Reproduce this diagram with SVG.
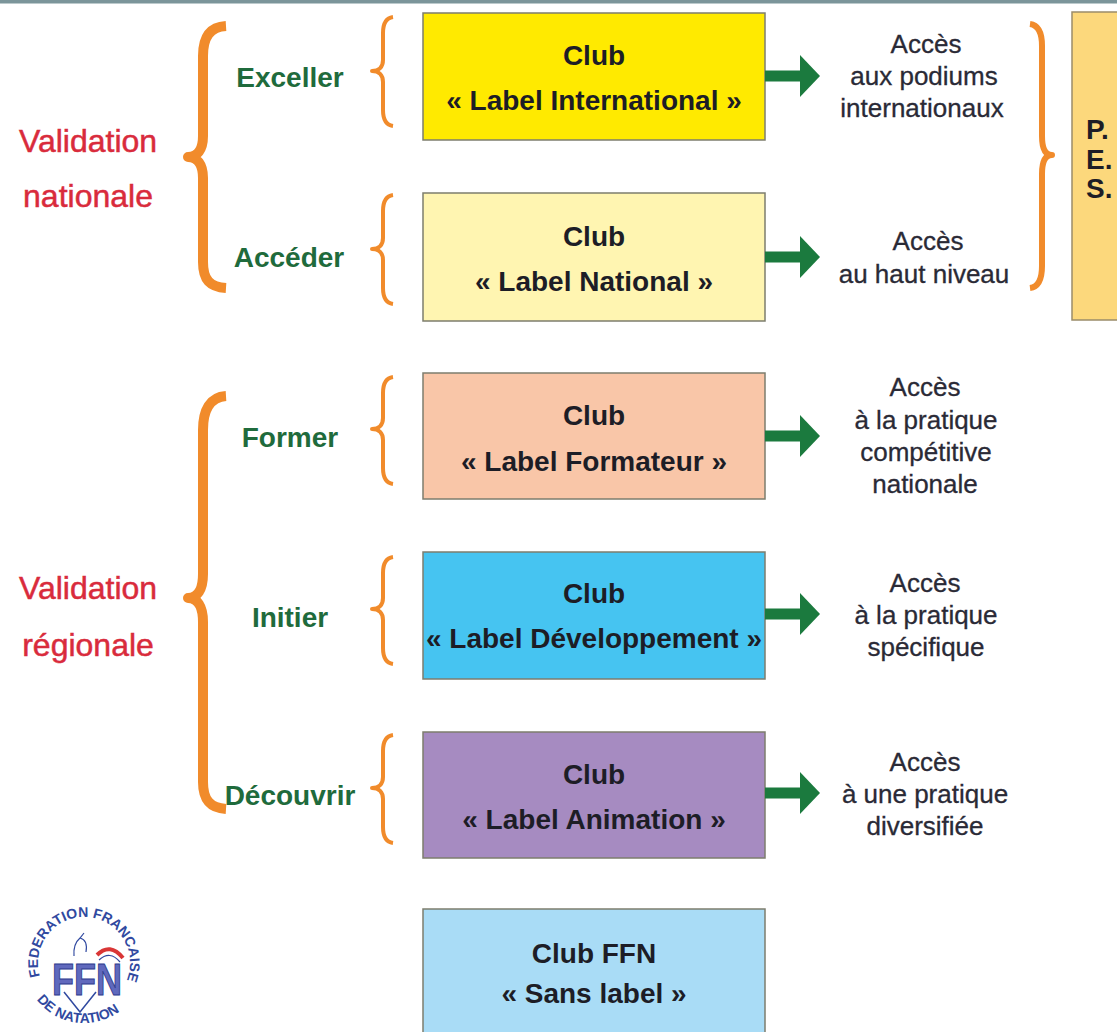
<svg xmlns="http://www.w3.org/2000/svg" width="1117" height="1032" viewBox="0 0 1117 1032">
  <style>
    .box { stroke: #7d7d6e; stroke-width: 1.5; }
    .bt { font-family: "Liberation Sans", Arial, sans-serif; font-weight: bold; font-size: 28px; fill: #1d1d26; text-anchor: middle; }
    .gl { font-family: "Liberation Sans", Arial, sans-serif; font-weight: bold; font-size: 28px; fill: #1f6b3c; text-anchor: middle; }
    .rl { font-family: "Liberation Sans", Arial, sans-serif; font-size: 32px; fill: #d92b3c; stroke: #d92b3c; stroke-width: 0.5; text-anchor: middle; }
    .rt { font-family: "Liberation Sans", Arial, sans-serif; font-size: 26px; fill: #2a2a36; stroke: #2a2a36; stroke-width: 0.3; text-anchor: middle; }
    .br { fill: none; stroke: #f18b2b; stroke-linecap: butt; stroke-linejoin: round; }
    .arrow { stroke: #1b7a3e; stroke-width: 11; fill: none; }
    .logo { font-family: "Liberation Sans", Arial, sans-serif; font-weight: bold; fill: #3049a0; }
  </style>
  <defs>
    <marker id="ah" markerUnits="userSpaceOnUse" markerWidth="20" markerHeight="42" viewBox="0 0 20 42" refX="0" refY="21" orient="auto">
      <path d="M0,0 L20,21 L0,42 Z" fill="#1b7a3e"/>
    </marker>
    <path id="logoTop" d="M42.3,982.4 A46,46 0 1 1 123.8,986"/>
    <path id="logoBot" d="M34.9,997.4 A60,60 0 0 0 136,993"/>
  </defs>

  <rect x="0" y="0" width="1117" height="1032" fill="#ffffff"/>
  <rect x="0" y="0" width="1117" height="3.5" fill="#7b959a"/>

  <!-- left group labels -->
  <g id="validation-nationale">
    <text class="rl" x="88" y="152">Validation</text>
    <text class="rl" x="88" y="207">nationale</text>
  </g>
  <g id="validation-regionale">
    <text class="rl" x="88" y="599">Validation</text>
    <text class="rl" x="88" y="656">régionale</text>
  </g>

  <!-- braces -->
  <g id="braces">
    <path class="br" stroke-width="10" d="M226,26 C210,27 203,37 203,56 L203,136 C203,150 197,157 188,157 C197,157 203,164 203,178 L203,262 C203,280 210,287 226,288"/>
    <path class="br" stroke-width="10" d="M226,396 C210,397 203,410 203,430 L203,574 C203,590 197,598 188,598 C197,598 203,606 203,622 L203,782 C203,800 210,808 226,809"/>
    <path class="br" stroke-width="4" d="M393,17 C386,18 383,23 383,33 L383,60 C383,67 379,71 372,71 C379,71 383,75 383,82 L383,110 C383,120 386,125 393,126"/>
    <path class="br" stroke-width="4" d="M393,195 C386,196 383,201 383,211 L383,238 C383,245 379,249 372,249 C379,249 383,253 383,260 L383,288 C383,298 386,303 393,304"/>
    <path class="br" stroke-width="4" d="M393,377 C386,378 383,383 383,393 L383,418 C383,425 379,429 372,429 C379,429 383,433 383,440 L383,468 C383,478 386,483 393,484"/>
    <path class="br" stroke-width="4" d="M393,557 C386,558 383,563 383,573 L383,598 C383,605 379,609 372,609 C379,609 383,613 383,620 L383,648 C383,658 386,663 393,664"/>
    <path class="br" stroke-width="4" d="M393,735 C386,736 383,741 383,751 L383,777 C383,784 379,788 372,788 C379,788 383,792 383,799 L383,827 C383,837 386,842 393,843"/>
    <path class="br" stroke-width="6" d="M1030,24 C1038,25 1042,32 1042,46 L1042,136 C1042,149 1046,155 1052,155 C1046,155 1042,161 1042,174 L1042,266 C1042,280 1038,287 1030,288"/>
  </g>

  <!-- action labels -->
  <g id="lbl-exceller"><text class="gl" x="290" y="87">Exceller</text></g>
  <g id="lbl-acceder"><text class="gl" x="289" y="267">Accéder</text></g>
  <g id="lbl-former"><text class="gl" x="290" y="447">Former</text></g>
  <g id="lbl-initier"><text class="gl" x="290" y="627">Initier</text></g>
  <g id="lbl-decouvrir"><text class="gl" x="290" y="805">Découvrir</text></g>

  <!-- club boxes -->
  <g id="node-international">
    <rect class="box" x="423" y="13" width="342" height="127" fill="#ffea00"/>
    <text class="bt" x="594" y="65">Club</text>
    <text class="bt" x="594" y="110">« Label International »</text>
  </g>
  <g id="node-national">
    <rect class="box" x="423" y="193" width="342" height="128" fill="#fff5b1"/>
    <text class="bt" x="594" y="246">Club</text>
    <text class="bt" x="594" y="291">« Label National »</text>
  </g>
  <g id="node-formateur">
    <rect class="box" x="423" y="373" width="342" height="126" fill="#f9c6a8" stroke="#8a6a5a"/>
    <text class="bt" x="594" y="425">Club</text>
    <text class="bt" x="594" y="471">« Label Formateur »</text>
  </g>
  <g id="node-developpement">
    <rect class="box" x="423" y="552" width="342" height="127" fill="#46c4f1" stroke="#3b7f99"/>
    <text class="bt" x="594" y="603">Club</text>
    <text class="bt" x="594" y="648">« Label Développement »</text>
  </g>
  <g id="node-animation">
    <rect class="box" x="423" y="732" width="342" height="126" fill="#a68bc1"/>
    <text class="bt" x="594" y="784">Club</text>
    <text class="bt" x="594" y="829">« Label Animation »</text>
  </g>
  <g id="node-sans-label">
    <rect class="box" x="423" y="909" width="342" height="140" fill="#a9dcf6" stroke="#7a98a8"/>
    <text class="bt" x="594" y="963">Club FFN</text>
    <text class="bt" x="594" y="1003">« Sans label »</text>
  </g>

  <!-- PES box -->
  <g id="node-pes">
    <rect x="1072" y="12" width="60" height="308" fill="#fcd87c" stroke="#9a8c6a" stroke-width="1.5"/>
    <text class="bt" x="1086" y="139" style="text-anchor:start">P.</text>
    <text class="bt" x="1086" y="169" style="text-anchor:start">E.</text>
    <text class="bt" x="1086" y="198" style="text-anchor:start">S.</text>
  </g>

  <!-- access texts -->
  <g id="acc-international">
    <text class="rt" x="926" y="53">Accès</text>
    <text class="rt" x="924" y="85">aux podiums</text>
    <text class="rt" x="922" y="117">internationaux</text>
  </g>
  <g id="acc-haut-niveau">
    <text class="rt" x="928" y="250">Accès</text>
    <text class="rt" x="924" y="283">au haut niveau</text>
  </g>
  <g id="acc-competitive">
    <text class="rt" x="925" y="396">Accès</text>
    <text class="rt" x="926" y="429">à la pratique</text>
    <text class="rt" x="926" y="461">compétitive</text>
    <text class="rt" x="925" y="493">nationale</text>
  </g>
  <g id="acc-specifique">
    <text class="rt" x="925" y="592">Accès</text>
    <text class="rt" x="926" y="624">à la pratique</text>
    <text class="rt" x="926" y="656">spécifique</text>
  </g>
  <g id="acc-diversifiee">
    <text class="rt" x="925" y="771">Accès</text>
    <text class="rt" x="925" y="803">à une pratique</text>
    <text class="rt" x="925" y="835">diversifiée</text>
  </g>

  <!-- connectors -->
  <g id="connectors">
    <line class="arrow" x1="765" y1="76" x2="800" y2="76" marker-end="url(#ah)"/>
    <line class="arrow" x1="765" y1="257" x2="800" y2="257" marker-end="url(#ah)"/>
    <line class="arrow" x1="765" y1="436" x2="800" y2="436" marker-end="url(#ah)"/>
    <line class="arrow" x1="765" y1="614" x2="800" y2="614" marker-end="url(#ah)"/>
    <line class="arrow" x1="765" y1="793" x2="800" y2="793" marker-end="url(#ah)"/>
  </g>

  <!-- FFN logo -->
  <g id="logo-ffn">
    <text class="logo" font-size="14"><textPath href="#logoTop" startOffset="50%" text-anchor="middle">FEDERATION FRANCAISE</textPath></text>
    <text class="logo" font-size="14"><textPath href="#logoBot" startOffset="3">DE NATATION</textPath></text>
    <path d="M97,955 Q110,942 123,958" fill="none" stroke="#d93636" stroke-width="4"/>
    <path d="M99,960 Q110,950 120,962" fill="none" stroke="#3049a0" stroke-width="1.2"/>
    <path d="M74,956 Q73,944 80,938 L84,933 M80,938 Q88,940 86,952" fill="none" stroke="#3049a0" stroke-width="1.2"/>
    <path d="M64,992 L80,1012 L96,992" fill="none" stroke="#3049a0" stroke-width="1.5"/>
    <text x="52" y="995" textLength="70" lengthAdjust="spacingAndGlyphs" font-family="Liberation Sans, Arial, sans-serif" font-weight="bold" font-size="44" fill="#6069bd" stroke="#2d3a8c" stroke-width="1">FFN</text>
  </g>
</svg>
